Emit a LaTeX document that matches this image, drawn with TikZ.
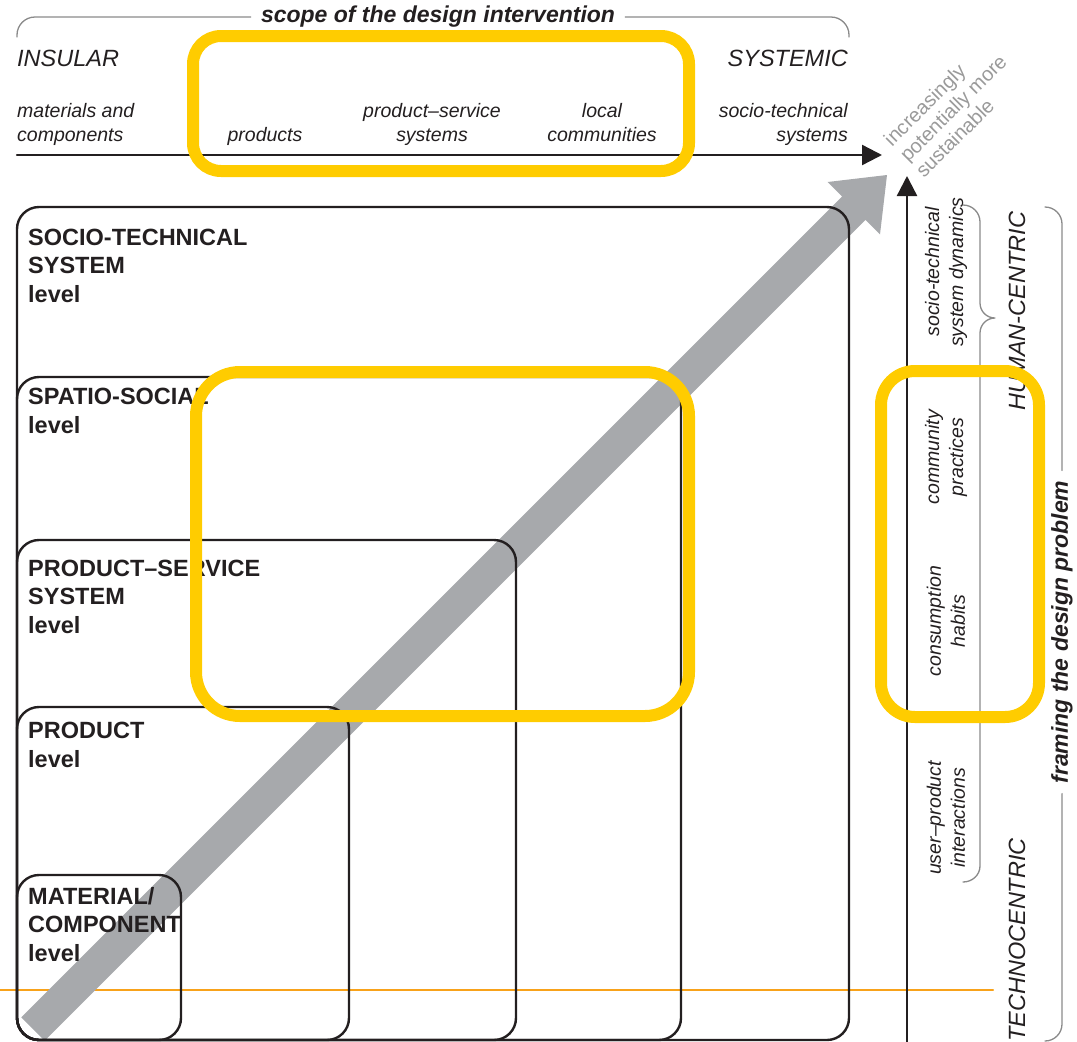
\documentclass[tikz,border=0pt]{standalone}
\usepackage{fontspec}
\setmainfont{Liberation Sans}
\usetikzlibrary{arrows.meta}
\definecolor{ink}{HTML}{231F20}
\definecolor{hiyellow}{HTML}{FFCC00}
\definecolor{arrowgray}{HTML}{A7A9AC}
\definecolor{bracegray}{HTML}{8A8A8A}
\definecolor{susgray}{HTML}{9A9A9A}
\definecolor{baseorange}{HTML}{F8A21A}
\begin{document}
\begin{tikzpicture}[x=1pt, y=1pt, line join=round, line cap=round,
	box/.style={draw=ink, line width=2.4pt, rounded corners=22pt},
	hilite/.style={draw=hiyellow, line width=12pt},
	brace/.style={draw=bracegray, line width=1.3pt},
	axis/.style={draw=ink, line width=2.4pt, -{Triangle[length=20pt,width=20pt]}},
	lvl/.style={anchor=base west, align=left, inner sep=0pt, text=ink, font=\bfseries\fontsize{23.5}{28.5}\selectfont},
	lbl/.style={inner sep=0pt, text=ink, font=\itshape\fontsize{19.5}{24}\selectfont},
	pole/.style={inner sep=0pt, text=ink, font=\itshape\fontsize{23.5}{28}\selectfont},
	ttl/.style={inner xsep=10pt, inner ysep=0pt, text=ink, font=\bfseries\itshape\fontsize{23}{28}\selectfont}]
	\useasboundingbox (0,0) rectangle (1077,-1042);
	% base line
	\draw[baseorange, line width=2.2pt] (0,-990) -- (993,-990);
	% gray arrow
	\fill[arrowgray] (21.3,-1017.3) -- (842.1,-196.5) -- (827.6,-182) -- (887,-175) -- (880,-234.4) -- (865.5,-219.9) -- (44.7,-1040.7) -- cycle;
	% nested levels (base anchor = last line)
	\draw[box] (17,-207) rectangle (849,-1040);
	\draw[box] (17,-377) rectangle (681,-1040);
	\draw[box] (17,-540) rectangle (516,-1040);
	\draw[box] (17,-707) rectangle (349,-1040);
	\draw[box] (17,-875) rectangle (181,-1040);
	\node[lvl] (stslvl) at (28,-302) {SOCIO-TECHNICAL\\SYSTEM\\level};
	\node[lvl] (sslvl) at (28,-433) {SPATIO-SOCIAL\\level};
	\node[lvl] (psslvl) at (28,-633) {PRODUCT--SERVICE\\SYSTEM\\level};
	\node[lvl] (plvl) at (28,-767) {PRODUCT\\level};
	\node[lvl] (mclvl) at (28,-961) {MATERIAL/\\COMPONENT\\level};
	% axes
	\draw[axis] (17,-155) -- (882,-155);
	\draw[axis] (907,-1042) -- (907,-176);
	% scope of the design intervention
	\node[ttl] (scope) at (438,-17) {scope of the design intervention};
	\draw[brace, rounded corners=18pt] (scope.west) -| (17,-37);
	\draw[brace, rounded corners=18pt] (scope.east) -| (849,-37);
	\node[pole, anchor=base west] (insular) at (17,-66) {INSULAR};
	\node[pole, anchor=base east] (systemic) at (848,-66) {SYSTEMIC};
	\node[lbl, anchor=base west, align=left] (matcomp) at (17,-141) {materials and\\components};
	\node[lbl, anchor=base] (prods) at (265,-141) {products};
	\node[lbl, anchor=base, align=center] (pss) at (432,-141) {product--service\\systems};
	\node[lbl, anchor=base, align=center] (local) at (602,-141) {local\\communities};
	\node[lbl, anchor=base east, align=right] (sts) at (848,-141) {socio-technical\\systems};
	\node[inner sep=0pt, rotate=45, align=left, text=susgray, font=\fontsize{20}{22.5}\selectfont] (sust) at (953,-108) {increasingly\\potentially more\\sustainable};
	% framing the design problem
	\node[lbl, rotate=90, align=center] (stdyn) at (946,-272) {socio-technical\\system dynamics};
	\node[lbl, rotate=90, align=center] (commpr) at (946,-457) {community\\practices};
	\node[lbl, rotate=90, align=center] (conshab) at (946,-621) {consumption\\habits};
	\node[lbl, rotate=90, align=center] (upint) at (946,-818) {user--product\\interactions};
	\draw[brace] (963,-205) to[out=0,in=90] (980,-222) -- (980,-303) to[out=-90,in=180] (995,-318)
		to[out=180,in=90] (980,-333) -- (980,-866) to[out=-90,in=0] (963,-882);
	\node[pole, rotate=90] (human) at (1017,-311) {HUMAN-CENTRIC};
	\node[pole, rotate=90] (techno) at (1017,-940) {TECHNOCENTRIC};
	\node[ttl, rotate=90] (framing) at (1062,-632) {framing the design problem};
	\draw[brace, rounded corners=17pt] (framing.east) |- (1045,-207);
	\draw[brace, rounded corners=17pt] (framing.west) |- (1045,-1041);
	% highlights
	\draw[hilite, rounded corners=28pt] (193,-36) rectangle (689,-171);
	\draw[hilite, rounded corners=44pt] (196,-372) rectangle (689,-716);
	\draw[hilite, rounded corners=34pt] (881,-371) rectangle (1039,-717);
\end{tikzpicture}
\end{document}
